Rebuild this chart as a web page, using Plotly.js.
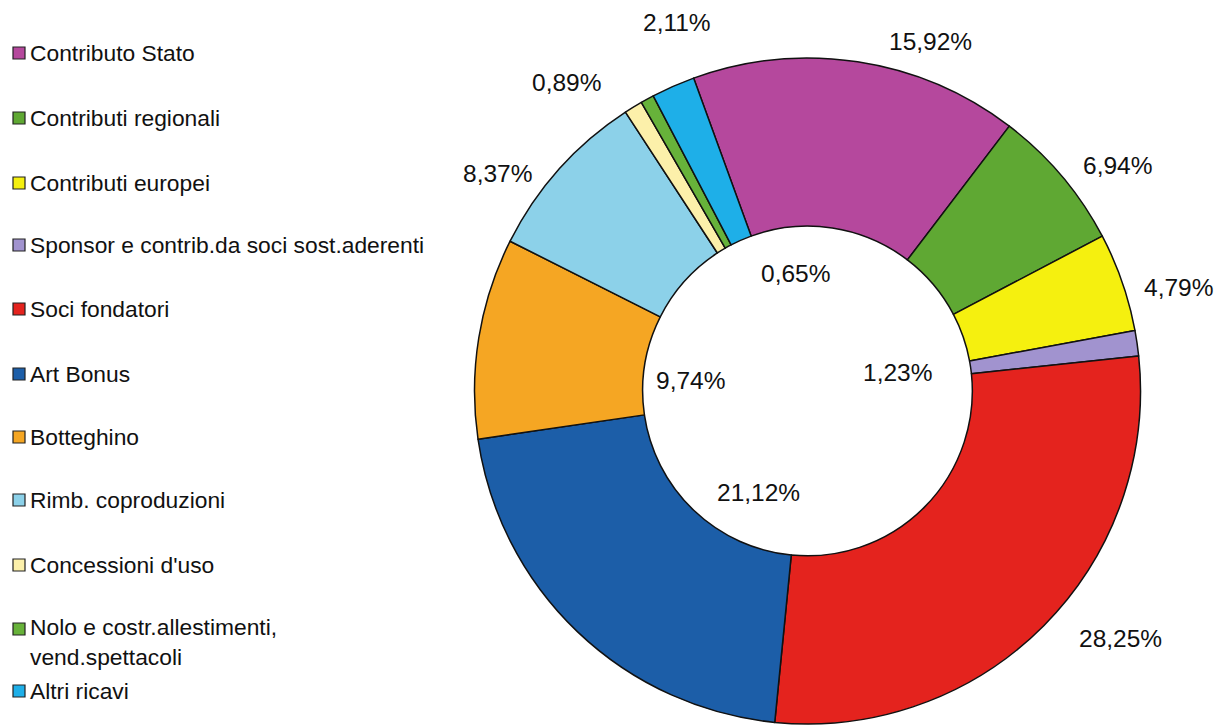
<!DOCTYPE html>
<html>
<head>
<meta charset="utf-8">
<script src="https://cdn.plot.ly/plotly-3.0.1.min.js"></script>
<style>html,body{margin:0;padding:0;background:#fff;}#chart{width:1216px;height:727px;}</style>
</head>
<body>
<div id="chart"></div>
<script>
// ---- data ----
var categories = [
  "Contributo Stato",
  "Contributi regionali",
  "Contributi europei",
  "Sponsor e contrib.da soci sost.aderenti",
  "Soci fondatori",
  "Art Bonus",
  "Botteghino",
  "Rimb. coproduzioni",
  "Concessioni d'uso",
  "Nolo e costr.allestimenti,<br>vend.spettacoli",
  "Altri ricavi"
];
var values = [15.92, 6.94, 4.79, 1.23, 28.25, 21.12, 9.74, 8.37, 0.89, 0.65, 2.11];
var colors = ["#B5489D", "#5FA833", "#F5F00F", "#A193CF", "#E4231E", "#1C5EA8",
              "#F5A623", "#8CD1E9", "#FCF0AA", "#67B23A", "#1EAFE8"];

// ---- layout positions (pixels, converted to paper) ----
var W = 1216, H = 727;
var labelPos = [[930,42],[1117,166],[1178,287],[897,372],[1120,638],[758,492],
                [690,381],[497,173],[566,82],[795,273],[677,22]];
var legendRowY = [53,118,183,245,309,374,437,500,565,629,691];
var legendLineGap = 26;

function fmt(v){ return v.toFixed(2).replace('.', ',') + '%'; }
function px(x){ return x / W; }
function py(y){ return 1 - y / H; }

var font = "'Liberation Sans', Arial, sans-serif";

var annotations = [];
var shapes = [];
values.forEach(function(v, i){
  annotations.push({
    xref:'paper', yref:'paper', x:px(labelPos[i][0]), y:py(labelPos[i][1]),
    text: fmt(v), showarrow:false, xanchor:'center', yanchor:'middle',
    font:{family:font, size:24.5, color:'#111'}
  });
});
categories.forEach(function(c, i){
  var nLines = c.split('<br>').length;
  var cy = legendRowY[i] + (nLines - 1) * legendLineGap / 2;
  annotations.push({
    xref:'paper', yref:'paper', x:px(28), y:py(cy),
    text: c, showarrow:false, xanchor:'left', yanchor:'middle', align:'left',
    font:{family:font, size:22.8, color:'#111'}
  });
  shapes.push({
    type:'rect', xref:'paper', yref:'paper',
    x0:px(13), x1:px(25), y0:py(legendRowY[i]+6), y1:py(legendRowY[i]-6),
    fillcolor: colors[i], line:{color:'#222', width:1.2}
  });
});

var trace = {
  type:'pie',
  labels: categories,
  values: values,
  sort:false,
  direction:'clockwise',
  rotation:-20,
  hole:0.495,
  textinfo:'none',
  hoverinfo:'label+percent',
  marker:{colors:colors, line:{color:'#111', width:1.5}},
  domain:{x:[px(807.5-333), px(807.5+333)], y:[py(391+333), py(391-333)]},
  showlegend:false
};

var layout = {
  width:W, height:H,
  margin:{l:0, r:0, t:0, b:0},
  paper_bgcolor:'#fff',
  plot_bgcolor:'#fff',
  showlegend:false,
  annotations:annotations,
  shapes:shapes
};

Plotly.newPlot('chart', [trace], layout, {displayModeBar:false, staticPlot:true});
</script>
</body>
</html>
